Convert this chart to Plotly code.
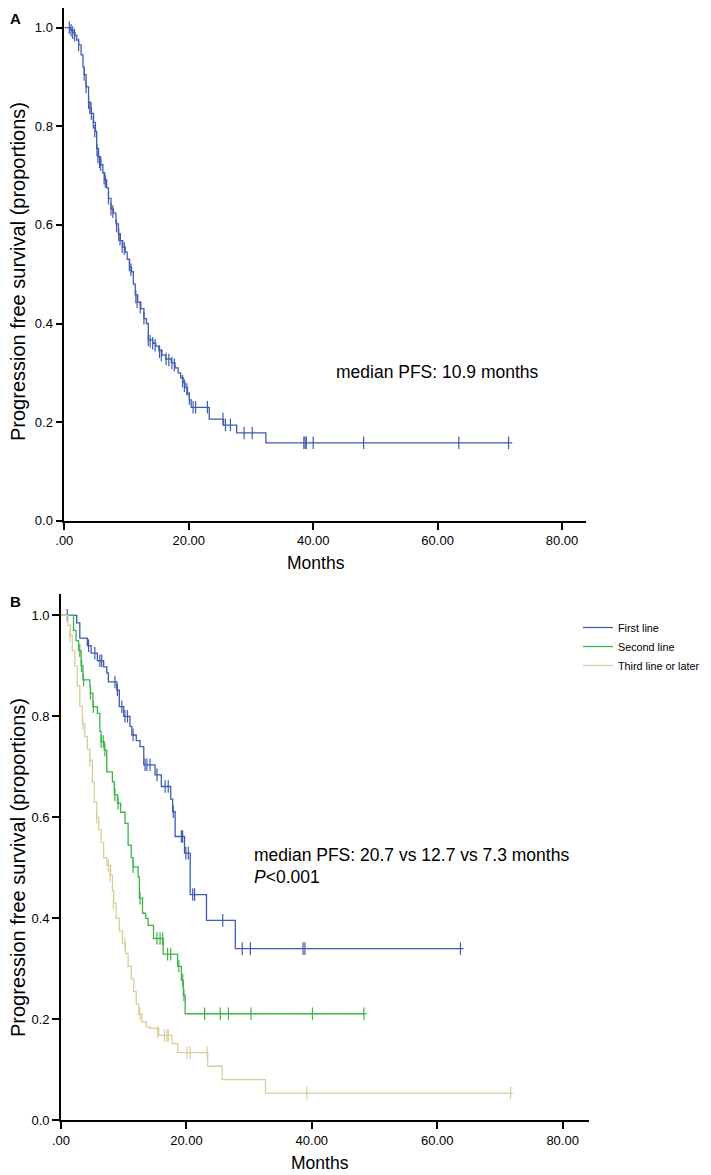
import plotly.graph_objects as go

# ---- Panel A: all patients (step points + censor marks) ----
a_time = [0, 0.6, 1.0, 1.4, 1.7, 2.0, 2.3, 2.7, 3.0, 3.2, 3.5, 3.9, 4.3, 4.7, 5.0, 5.2,
          5.5, 5.85, 6.2, 6.5, 6.8, 7.1, 7.5, 7.9, 8.3, 8.7, 9.0, 9.4, 9.8, 10.1, 10.5,
          10.8, 11.1, 11.4, 11.8, 12.3, 12.8, 13.2, 13.5, 14.2, 14.7, 15.2, 15.7, 16.3,
          17.2, 17.8, 18.3, 18.7, 19.1, 19.4, 19.8, 20.1, 20.4, 23.3, 25.6, 27.7, 32.4, 72.0]
a_surv = [1.0, 1.0, 0.995, 0.99, 0.985, 0.975, 0.965, 0.945, 0.92, 0.905, 0.88, 0.848,
          0.826, 0.808, 0.79, 0.755, 0.738, 0.722, 0.705, 0.692, 0.675, 0.654, 0.632, 0.624,
          0.602, 0.582, 0.568, 0.555, 0.545, 0.53, 0.515, 0.505, 0.48, 0.458, 0.443, 0.43,
          0.41, 0.40, 0.367, 0.36, 0.354, 0.345, 0.336, 0.328, 0.32, 0.31, 0.30, 0.29, 0.28,
          0.27, 0.258, 0.245, 0.23, 0.206, 0.194, 0.178, 0.158, 0.158]
a_cens_t = [0.8, 1.1, 1.35, 1.65, 2.3, 3.2, 3.5, 3.9, 4.1, 4.35, 4.65, 4.9, 5.25, 5.4, 5.65,
            5.85, 6.4, 6.6, 7.1, 7.5, 7.8, 8.4, 8.75, 8.95, 9.3, 9.65, 10.45, 10.7, 11.5,
            11.7, 12.2, 12.8, 13.5, 13.8, 14.2, 14.6, 15.3, 15.6, 16.35, 16.8, 17.3, 17.7,
            19.0, 19.3, 19.7, 20.1, 20.7, 21.1, 23.0, 25.5, 25.9, 26.7, 28.9, 30.2, 38.5,
            38.7, 38.9, 40.0, 48.1, 63.4, 71.4]
a_cens_s = [1.0, 0.995, 0.99, 0.985, 0.965, 0.905, 0.88, 0.848, 0.838, 0.826, 0.808, 0.79,
            0.752, 0.738, 0.728, 0.722, 0.695, 0.688, 0.654, 0.632, 0.627, 0.598, 0.58, 0.571,
            0.556, 0.552, 0.519, 0.509, 0.454, 0.444, 0.433, 0.411, 0.367, 0.364, 0.36, 0.356,
            0.343, 0.336, 0.328, 0.326, 0.32, 0.316, 0.283, 0.274, 0.266, 0.248, 0.23, 0.23,
            0.23, 0.206, 0.194, 0.194, 0.178, 0.178, 0.158, 0.158, 0.158, 0.158, 0.158, 0.158,
            0.158]

# ---- Panel B: by treatment line ----
first_time = [0, 2.5, 3.0, 4.2, 4.8, 5.8, 6.8, 7.3, 7.55, 8.9, 9.3, 10.0, 11.0, 11.3, 12.0,
              12.6, 13.2, 15.0, 16.0, 17.5, 17.8, 18.2, 19.7, 20.6, 23.2, 27.8, 64.2]
first_surv = [1.0, 0.985, 0.955, 0.94, 0.925, 0.91, 0.898, 0.886, 0.868, 0.852, 0.819, 0.80,
              0.78, 0.763, 0.752, 0.74, 0.704, 0.684, 0.661, 0.636, 0.611, 0.562, 0.529,
              0.447, 0.396, 0.340, 0.340]
first_cens_t = [1.0, 4.4, 5.4, 6.2, 6.5, 8.6, 9.0, 9.7, 10.2, 10.6, 11.5, 13.4, 13.7, 14.2,
                15.3, 16.6, 17.1, 17.9, 19.2, 19.4, 19.9, 20.3, 21.0, 21.3, 25.8, 28.9, 30.2,
                38.6, 38.9, 63.7]
first_cens_s = [1.0, 0.94, 0.925, 0.91, 0.91, 0.868, 0.852, 0.819, 0.80, 0.80, 0.763, 0.704,
                0.704, 0.704, 0.684, 0.661, 0.661, 0.611, 0.562, 0.562, 0.529, 0.529, 0.447,
                0.447, 0.396, 0.34, 0.34, 0.34, 0.34, 0.34]

second_time = [0, 1.5, 2.0, 2.4, 2.8, 3.2, 3.5, 4.6, 4.7, 5.1, 5.8, 6.2, 6.4, 6.9, 7.3, 8.2,
               8.5, 9.0, 9.5, 10.2, 10.7, 11.2, 11.5, 12.3, 12.5, 13.0, 13.5, 13.9, 14.75,
               16.3, 18.6, 19.2, 19.5, 19.8, 48.7]
second_surv = [1.0, 1.0, 0.97, 0.95, 0.93, 0.90, 0.872, 0.86, 0.846, 0.819, 0.806, 0.77,
               0.75, 0.733, 0.69, 0.67, 0.645, 0.628, 0.61, 0.588, 0.545, 0.52, 0.502, 0.482,
               0.44, 0.41, 0.40, 0.386, 0.36, 0.329, 0.305, 0.277, 0.248, 0.211, 0.211]
second_cens_t = [3.0, 3.3, 3.6, 4.7, 5.15, 6.4, 6.75, 7.0, 8.6, 9.1, 11.5, 12.6, 15.3, 15.8,
                 16.2, 17.0, 17.5, 18.8, 19.4, 19.6, 22.9, 25.4, 26.7, 30.3, 40.1, 48.3]
second_cens_s = [0.93, 0.90, 0.872, 0.846, 0.819, 0.75, 0.75, 0.733, 0.645, 0.628, 0.502,
                 0.44, 0.36, 0.36, 0.36, 0.329, 0.329, 0.305, 0.277, 0.248, 0.211, 0.211,
                 0.211, 0.211, 0.211, 0.211]

third_time = [0, 0.8, 1.1, 1.5, 1.8, 2.2, 2.6, 3.0, 3.4, 3.8, 4.2, 4.6, 5.0, 5.3, 5.7, 6.0,
              6.4, 6.8, 7.3, 7.9, 8.2, 8.4, 8.8, 9.3, 9.8, 10.3, 10.7, 11.2, 11.6, 12.0,
              12.4, 12.9, 13.6, 14.2, 15.6, 17.7, 18.6, 23.4, 25.7, 32.6, 72.1]
third_surv = [1.0, 1.0, 0.98, 0.96, 0.93, 0.90, 0.86, 0.82, 0.785, 0.76, 0.735, 0.713, 0.67,
              0.63, 0.60, 0.575, 0.55, 0.52, 0.505, 0.485, 0.455, 0.43, 0.40, 0.375, 0.35,
              0.33, 0.305, 0.28, 0.255, 0.23, 0.21, 0.195, 0.185, 0.182, 0.168, 0.152, 0.134,
              0.107, 0.0805, 0.054, 0.054]
third_cens_t = [1.4, 3.5, 4.6, 5.7, 7.55, 7.8, 8.35, 10.2, 12.6, 15.4, 16.5, 16.9, 17.1,
                20.1, 20.6, 23.3, 39.2, 71.7]
third_cens_s = [0.96, 0.785, 0.713, 0.60, 0.505, 0.485, 0.43, 0.35, 0.21, 0.175, 0.168,
                0.168, 0.168, 0.134, 0.134, 0.134, 0.054, 0.054]

x_ticks = [0, 20, 40, 60, 80]
x_tick_text = [".00", "20.00", "40.00", "60.00", "80.00"]
y_ticks = [0, 0.2, 0.4, 0.6, 0.8, 1.0]

BLUE = "#3f5cb3"
GREEN = "#3db34b"
TAN = "#d8cf98"
FONT = "Liberation Sans, Arial, sans-serif"

# the page body has an 8px margin, so the figure is sized to fill the rest of the window
OFF = 8
W, H = 711 - OFF, 1175 - OFF


def px(x):
    return (x - OFF) / W


def py(y):
    return (H - (y - OFF)) / H


fig = go.Figure()


def add_curve(t, s, ct, cs, color, name, xa, ya, legend):
    fig.add_trace(go.Scatter(
        x=t, y=s, mode="lines", line=dict(color=color, width=1.3, shape="hv"),
        name=name, showlegend=legend, xaxis=xa, yaxis=ya,
    ))
    fig.add_trace(go.Scatter(
        x=ct, y=cs, mode="markers", showlegend=False, xaxis=xa, yaxis=ya,
        marker=dict(symbol="line-ns", size=9, line=dict(color=color, width=1.2)),
        hoverinfo="skip",
    ))


add_curve(a_time, a_surv, a_cens_t, a_cens_s, BLUE, "All", "x", "y", False)
add_curve(first_time, first_surv, first_cens_t, first_cens_s, BLUE, "First line", "x2", "y2", True)
add_curve(second_time, second_surv, second_cens_t, second_cens_s, GREEN, "Second line", "x2", "y2", True)
add_curve(third_time, third_surv, third_cens_t, third_cens_s, TAN, "Third line or later", "x2", "y2", True)

axis_common = dict(
    showline=True, linecolor="black", linewidth=1.6, ticks="outside", ticklen=7,
    tickwidth=1.6, tickcolor="black", showgrid=False, zeroline=False,
    tickfont=dict(family=FONT, size=13, color="black"),
)

fig.update_layout(
    width=W, height=H,
    margin=dict(l=0, r=0, t=0, b=0, autoexpand=False),
    paper_bgcolor="white", plot_bgcolor="white",
    font=dict(family=FONT, color="black"),
    xaxis=dict(domain=[px(64.3), px(585.7)], range=[0, 83.8], anchor="y",
               tickvals=x_ticks, ticktext=x_tick_text, **axis_common),
    yaxis=dict(domain=[py(520.7), 1.0], range=[0, 1.04], anchor="x",
               tickvals=y_ticks, tickformat=".1f", **axis_common),
    xaxis2=dict(domain=[px(61), px(589)], range=[0, 84.2], anchor="y2",
                tickvals=x_ticks, ticktext=x_tick_text, **axis_common),
    yaxis2=dict(domain=[py(1120.3), py(593.6)], range=[0, 1.043], anchor="x2",
                tickvals=y_ticks, tickformat=".1f", **axis_common),
    legend=dict(x=px(578), y=py(613), xanchor="left", yanchor="top",
                font=dict(family=FONT, size=10.8, color="black"),
                bgcolor="rgba(0,0,0,0)", itemwidth=30, tracegroupgap=0),
)

ann = []
txt = dict(family=FONT, color="black")


def label(text, x, y, size, xanchor="left", angle=0):
    ann.append(dict(text=text, x=px(x), y=py(y), xref="paper", yref="paper",
                    showarrow=False, xanchor=xanchor, yanchor="middle", textangle=angle,
                    font=dict(size=size, **txt)))


label("<b>A</b>", 8, 18, 15)
label("<b>B</b>", 8, 601, 15)
label("Progression free survival (proportions)", 18, 272, 20, "center", -90)
label("Progression free survival (proportions)", 18, 868, 20, "center", -90)
label("Months", 316, 563, 17.5, "center")
label("Months", 320, 1163, 17.5, "center")
label("median PFS: 10.9 months", 334, 372, 17.5)
label("median PFS: 20.7 vs 12.7 vs 7.3 months", 252, 855, 17.5)
label("<i>P</i><0.001", 252, 877, 17.5)
fig.update_layout(annotations=ann)

fig.write_html("out.html")
